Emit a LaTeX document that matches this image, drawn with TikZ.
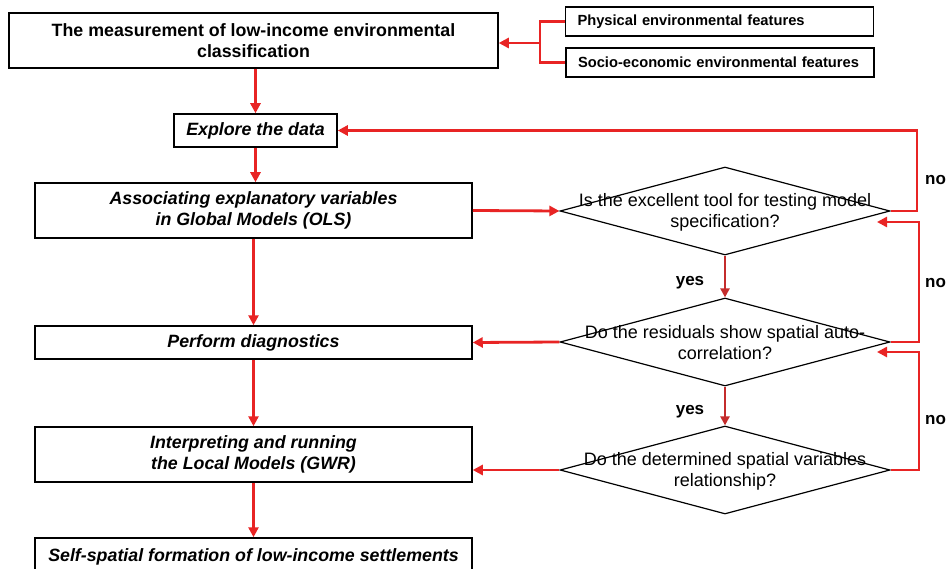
\documentclass[tikz,border=0pt]{standalone}
\usepackage{fontspec}
\setmainfont{Liberation Sans}
\usetikzlibrary{shapes.geometric,arrows.meta}
\definecolor{lred}{RGB}{232,36,36}
\definecolor{dred}{RGB}{196,44,44}
\begin{document}
\begin{tikzpicture}[x=1pt,y=-1pt,
  box/.style={draw=black,line width=1.5pt,rectangle,inner sep=0pt,align=center,
    font=\bfseries\itshape\fontsize{17.8}{21}\selectfont},
  topbox/.style={box,font=\bfseries\fontsize{17.8}{21}\selectfont},
  featbox/.style={draw=black,line width=1.5pt,rectangle,inner xsep=12pt,inner ysep=0pt,
    text width=284pt,align=left,minimum height=29pt,font=\bfseries\fontsize{14.7}{17}\selectfont},
  dia/.style={draw=black,line width=1.2pt,diamond,inner sep=0pt,minimum width=330pt,minimum height=88pt},
  dtext/.style={align=center,inner sep=0pt,font=\fontsize{18}{21}\selectfont},
  arr/.style={draw=lred,line width=2.8pt,-{Triangle[length=10pt,width=10pt]}},
  darr/.style={draw=dred,line width=2.8pt,-{Triangle[length=9pt,width=9pt]}},
  lab/.style={inner sep=0pt,font=\bfseries\fontsize{17}{20}\selectfont}]
\useasboundingbox (0,0) rectangle (947,569);
\fill[white] (0,0) rectangle (947,569);

\node[topbox,minimum width=489pt,minimum height=55pt] (m) at (253.5,40.5)
  {The measurement of low-income environmental\\classification};
\node[featbox] (phys) at (719.5,21.5) {Physical environmental features};
\node[featbox] (socio) at (720,62.5) {Socio-economic environmental features};

\node[box,minimum width=163pt,minimum height=33pt] (explore) at (255.5,130.5) {Explore the data};
\node[box,minimum width=437pt,minimum height=55pt] (assoc) at (253.5,210.5)
  {Associating explanatory variables\\in Global Models (OLS)};
\node[box,minimum width=437pt,minimum height=33pt] (perf) at (253.5,342.5) {Perform diagnostics};
\node[box,minimum width=437pt,minimum height=55pt] (interp) at (253.5,454.5)
  {Interpreting and running\\the Local Models (GWR)};
\node[box,minimum width=437pt,minimum height=38pt] (self) at (253.5,557)
  {Self-spatial formation of low-income settlements};

\node[dia] (d1) at (725,211) {};
\node[dtext] (d1t) at (725,212) {Is the excellent tool for testing model\\specification?};
\node[dia] (d2) at (725,342) {};
\node[dtext] (d2t) at (725,343) {Do the residuals show spatial auto-\\correlation?};
\node[dia] (d3) at (725,470) {};
\node[dtext] (d3t) at (725,471) {Do the determined spatial variables\\relationship?};

% bracket from feature boxes
\coordinate (bt) at (540,21.5);
\coordinate (bb) at (540,62.5);
\coordinate (bm) at (540,43);
\draw[lred,line width=2.8pt] (phys.west) -- (bt) -- (bb) -- (socio.west);
\draw[arr] (bm) -- (m.east |- bm);

% main column
\draw[arr] (explore.north |- m.south) -- (explore.north);
\draw[arr] (explore.south) -- (explore.south |- assoc.north);
\draw[arr] (assoc.south) -- (perf.north);
\draw[arr] (perf.south) -- (interp.north);
\draw[arr] (interp.south) -- (self.north);

% to and from diamonds
\draw[arr] (assoc.east) -- (d1.west);
\draw[darr] (d1.south) -- (d2.north);
\draw[darr] (d2.south) -- (d3.north);
\draw[arr] (d2.west) -- (perf.east);
\draw[arr] (d3.west) -- (interp.east |- d3.west);

% no loops
\coordinate (e1) at (917,211);
\coordinate (e2) at (919,342);
\coordinate (e3) at (919,470);
\coordinate (t2) at (877,222);
\coordinate (t3) at (877,352);
\draw[arr] (d1.east) -- (e1) |- (explore.east);
\draw[arr] (d2.east) -- (e2) |- (t2);
\draw[arr] (d3.east) -- (e3) |- (t3);

\node[lab] (y1) at (690,283) {yes};
\node[lab] (y2) at (690,412) {yes};
\node[lab,anchor=west] (n1) at (925,180) {no};
\node[lab,anchor=west] (n2) at (925,283) {no};
\node[lab,anchor=west] (n3) at (925,420) {no};
\end{tikzpicture}
\end{document}
